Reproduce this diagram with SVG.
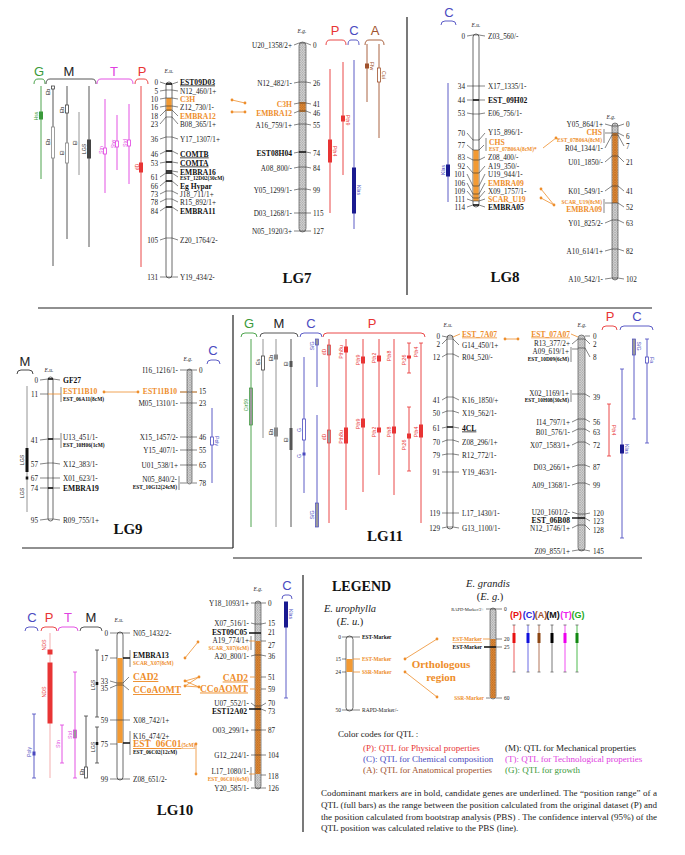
<svg xmlns="http://www.w3.org/2000/svg" width="685" height="855" viewBox="0 0 685 855">
<defs>
<pattern id="hg" width="2.5" height="2.5" patternUnits="userSpaceOnUse"><rect width="2.5" height="2.5" fill="#dcdcdc"/><path d="M0,2.5L2.5,0M0,0L2.5,2.5" stroke="#8a8a8a" stroke-width="0.45"/></pattern>
<pattern id="ho" width="2.5" height="2.5" patternUnits="userSpaceOnUse"><rect width="2.5" height="2.5" fill="#e8913a"/><path d="M0,2.5L2.5,0M0,0L2.5,2.5" stroke="#a0581a" stroke-width="0.45"/></pattern>
<pattern id="hq" width="2" height="2" patternUnits="userSpaceOnUse"><rect width="2" height="2" fill="#fff"/><path d="M0,1H2" stroke="currentColor" stroke-width="0.8"/></pattern>
</defs>
<style>
text{font-family:"Liberation Serif","Times New Roman",serif;font-size:7.2px;fill:#222}
.b{font-weight:bold;font-size:7.6px;fill:#111}
.o{fill:#ee8e2c;font-weight:bold;font-size:7.6px}
.s{font-size:5.4px;font-weight:bold;fill:#111}
.so{font-size:5.4px;font-weight:bold;fill:#ee8e2c}
.e{text-anchor:end}
.u{text-decoration:underline}
.L{font-size:15px;font-weight:bold;text-anchor:middle;fill:#111}
.i{font-style:italic;font-size:5.5px;text-anchor:middle}
.H{font-family:"Liberation Sans",Arial,sans-serif;font-size:13px;text-anchor:middle}
.q{font-family:"Liberation Sans",Arial,sans-serif;font-size:5.2px;text-anchor:middle}
.tk{stroke:#333;stroke-width:0.6;fill:none}
.bt{stroke:#111;stroke-width:1.4;fill:none}
.oc{stroke:#ee8e2c;stroke-width:0.8;fill:none}
.cu{fill:#fff;stroke:#444;stroke-width:0.8}
.cg{fill:url(#hg);stroke:#555;stroke-width:0.7}
.br{fill:none;stroke-width:0.9}
.sep{stroke:#222;stroke-width:1.2;fill:none}
.G{stroke:#3a9a3a;fill:#3a9a3a;color:#3a9a3a}
.M{stroke:#444;fill:#444;color:#444}
.Mg{stroke:#888;fill:#888;color:#888}
.T{stroke:#e040e0;fill:#e040e0;color:#e040e0}
.P{stroke:#e83434;fill:#e83434;color:#e83434}
.C{stroke:#4a4ac0;fill:#4a4ac0;color:#4a4ac0}
.Cd{fill:#1a1a90;stroke:#1a1a90}
.A{stroke:#a0522d;fill:#a0522d;color:#a0522d}
.ln{stroke-width:0.9;fill:none}
.op{fill:#fff;stroke-width:0.8}
.hq{fill:url(#hq);stroke-width:0.7}
.dot{fill:#ee8e2c}
.tG{fill:#3a9a3a}.tM{fill:#222}.tT{fill:#e040e0}.tP{fill:#e83434}.tC{fill:#4a4ac0}.tA{fill:#a0522d}
.cc{font-size:9px}
.lc{font-family:"Liberation Sans",Arial,sans-serif;font-size:9px;font-weight:bold;text-anchor:middle}
.sm{font-size:5.5px}
</style>
<rect width="685" height="855" fill="#fff"/>

<g id="separators">
<path class="sep" d="M38,308H652M407,17V295M22,548H233M233,315V548M233,558H642M303,575V832"/>
</g>

<!-- ================= LG7 ================= -->
<g id="lg7-qtl-left">
<path class="br" stroke="#3a9a3a" d="M34,84Q34,79 38,79H42Q45,79 45,84"/>
<path class="br" stroke="#444" d="M46,84Q46,79 50,79H92Q96,79 96,84"/>
<path class="br" stroke="#e040e0" d="M97,84Q97,79 101,79H129Q133,79 133,84"/>
<path class="br" stroke="#e83434" d="M135,84Q135,79 139,79H144Q148,79 148,84"/>
<text class="H tG" x="39" y="76">G</text>
<text class="H tM" x="69" y="76">M</text>
<text class="H tT" x="114" y="76">T</text>
<text class="H tP" x="142" y="76">P</text>
<path class="ln G" d="M41,86V179"/><rect class="G" x="39.5" y="112" width="3" height="7"/>
<text class="q tG" transform="translate(38,116) rotate(-90)">Hss</text>
<path class="ln M" d="M53,86V266M67,86V239M89,86V247"/><path class="ln Mg" d="M79,112V175"/>
<rect class="op Mg" x="51.5" y="127" width="3" height="31"/>
<rect class="op M" x="51.5" y="86" width="3" height="3"/>
<rect class="op M" x="65.5" y="105" width="3" height="8"/>
<rect class="op Mg" x="65.5" y="143" width="3" height="20"/>
<rect class="M" x="87.5" y="140" width="3" height="18"/>
<text class="q tM" transform="translate(50,92) rotate(-90)">Eb</text>
<text class="q tM" transform="translate(50,142) rotate(-90)">Eb</text>
<text class="q tM" transform="translate(64,110) rotate(-90)">Eb</text>
<text class="q tM" transform="translate(64,153) rotate(-90)">El</text>
<text class="q tM" transform="translate(77,143) rotate(-90)">El</text>
<text class="q tM" transform="translate(86,149) rotate(-90)">LGS</text>
<path class="ln T" d="M105,99V193M117,115V170M129,104V184"/>
<rect class="op T" x="103.5" y="148" width="3" height="6"/>
<rect class="op T" x="115.5" y="141" width="3" height="6"/>
<rect class="op T" x="127.5" y="140" width="3" height="6"/>
<text class="q tT" transform="translate(103,150) rotate(-90)">Stn</text>
<text class="q tT" transform="translate(115,144) rotate(-90)">Stw</text>
<text class="q tT" transform="translate(127,143) rotate(-90)">Std</text>
<path class="ln P" d="M141,86V267"/><rect class="P" x="139.5" y="163" width="3" height="9"/>
<text class="q tP" transform="translate(139,167) rotate(-90)">dD</text>
</g>

<g id="lg7-eu">
<text class="i" x="169" y="73">E.u.</text>
<rect class="cu" x="166" y="82" width="6" height="196" rx="3"/>
<rect x="166.4" y="98" width="5.2" height="13" fill="#f39a33"/>
<path class="tk" d="M160,82L166,84H172L178,82M160,91L166,90H172L178,91M160,99L166,98H172L178,99M160,107L166,106H172L178,107M160,116L166,110H172L178,116M160,124L166,117H172L178,124M160,139L166,137H172L178,139M160,154L166,151H172L178,154M160,163L166,162H172L178,163M166,171H172L178,172M160,177L166,173H172L178,177M160,186L166,181H172L178,186M160,194L166,191H172L178,194M160,202L166,199H172L178,202M160,211L166,207H172L178,211M160,240L166,238H172L178,240M160,277L166,277H172L178,277"/>
<path class="bt" d="M166,84H172M166,151H172M166,162H172M166,171H172M166,173H172M166,181H172M166,207H172"/>
<g class="e">
<text x="158" y="85">0</text><text x="158" y="93.5">5</text><text x="158" y="101.5">10</text><text x="158" y="109.5">16</text><text x="158" y="118.5">18</text><text x="158" y="126.5">23</text><text x="158" y="141.5">36</text><text x="158" y="156.5">46</text><text x="158" y="165.5">53</text><text x="158" y="179.5">61</text><text x="158" y="188.5">66</text><text x="158" y="196.5">73</text><text x="158" y="204.5">78</text><text x="158" y="213.5">84</text><text x="158" y="242.5">105</text><text x="158" y="279.5">131</text>
</g>
<text class="b u" x="180" y="84.5">EST09D03</text>
<text x="180" y="93.5">N12_460/1+</text>
<text class="o" x="180" y="101.5">C3H</text>
<text x="180" y="109.5">Z12_730/1-</text>
<text class="o" x="180" y="118.5">EMBRA12</text>
<text x="180" y="126.5">B08_365/1+</text>
<text x="180" y="141.5">Y17_1307/1+</text>
<text class="b u" x="180" y="156.5">COMTB</text>
<text class="b u" x="180" y="165.5">COMTA</text>
<text class="b" x="180" y="174.5">EMBRA16</text>
<text class="s" x="180" y="180">EST_12D02(30cM)</text>
<text class="b" x="180" y="188.5">Eg Hypar</text>
<text x="180" y="196.5">J18_711/1+</text>
<text x="180" y="204.5">R15_892/1+</text>
<text class="b" x="180" y="213.5">EMBRA11</text>
<text x="180" y="242.5">Z20_1764/2-</text>
<text x="180" y="279.5">Y19_434/2-</text>
</g>

<g id="lg7-connectors">
<path class="oc" d="M232,100L245,103M232,112H245"/>
<circle class="dot" cx="232" cy="100" r="1.4"/><circle class="dot" cx="245" cy="103" r="1.4"/>
<circle class="dot" cx="232" cy="112" r="1.4"/><circle class="dot" cx="245" cy="112" r="1.4"/>
</g>

<g id="lg7-eg">
<text class="i" x="302" y="33">E.g.</text>
<rect class="cg" x="299" y="42" width="7" height="190" rx="3.5"/>
<rect x="299.4" y="102" width="6.2" height="10" fill="url(#ho)"/>
<path class="tk" d="M294,45L299,43H306L311,45M294,83L299,82H306L311,83M294,104L299,103H306L311,104M294,113L299,111H306L311,113M294,125L299,124H306L311,125M294,153L299,152H306L311,153M294,168L299,167H306L311,168M294,190L299,189H306L311,190M294,213H311M294,231H311"/>
<path class="bt" d="M299,152H306"/>
<g class="e">
<text x="292" y="47.5">U20_1358/2+</text><text x="292" y="85.5">N12_482/1-</text><text class="o" x="292" y="106.5">C3H</text><text class="o" x="292" y="115.5">EMBRA12</text><text x="292" y="127.5">A16_759/1+</text><text class="b" x="292" y="155.5">EST08H04</text><text x="292" y="170.5">A08_800/-</text><text x="292" y="192.5">Y05_1299/1-</text><text x="292" y="215.5">D03_1268/1-</text><text x="292" y="233.5">N05_1920/3+</text>
</g>
<text x="313" y="47.5">0</text><text x="313" y="85.5">26</text><text x="313" y="106.5">41</text><text x="313" y="115.5">46</text><text x="313" y="127.5">55</text><text x="313" y="155.5">74</text><text x="313" y="170.5">84</text><text x="313" y="192.5">99</text><text x="313" y="215.5">115</text><text x="313" y="233.5">127</text>
<text class="L" x="297" y="283">LG7</text>
</g>

<g id="lg7-qtl-right">
<path class="br" stroke="#e83434" d="M326,45Q326,40 330,40H342Q346,40 346,45"/>
<path class="br" stroke="#4a4ac0" d="M348,45Q348,40 351,40H356Q359,40 359,45"/>
<path class="br" stroke="#a0522d" d="M365,45Q365,40 369,40H380Q384,40 384,45"/>
<text class="H tP" x="335" y="35">P</text>
<text class="H tC" x="354" y="35">C</text>
<text class="H tA" x="375" y="35">A</text>
<path class="ln P" d="M330,69V213M343,62V175"/>
<rect class="P" x="328.5" y="140" width="3" height="22"/>
<rect class="P" x="341.5" y="116" width="3" height="5"/>
<text class="q tP" transform="translate(333,151) rotate(90)">Pth4</text>
<text class="q tP" transform="translate(346,120) rotate(90)">Pth9</text>
<path class="ln C" d="M354,60V229" stroke-width="0.7"/>
<rect class="Cd" x="352.5" y="168" width="3" height="45"/>
<text class="q tC" transform="translate(357,190) rotate(90)">Klas</text>
<path class="ln A" d="M367,44V102M379,44V138"/>
<rect class="A" x="365.5" y="64" width="3" height="4"/>
<rect class="op A" x="377.5" y="68" width="3" height="14"/>
<text class="q tA" transform="translate(370,66) rotate(90)">Ffw</text>
<text class="q tA" transform="translate(382,75) rotate(90)">Cui</text>
</g>

<!-- ================= LG8 ================= -->
<g id="lg8-qtl">
<path class="br" stroke="#4a4ac0" d="M441,25Q441,21 445,21H452Q456,21 456,25"/>
<text class="H tC" x="449" y="17">C</text>
<path class="ln C" d="M448,83V202" stroke-width="0.7"/>
<rect class="Cd" x="446.5" y="165" width="3" height="11"/>
<text class="q tC" transform="translate(445,170) rotate(-90)">Klas</text>
</g>

<g id="lg8-eu">
<text class="i" x="476" y="27">E.u.</text>
<rect class="cu" x="473" y="34" width="6" height="173" rx="3"/>
<rect x="473.4" y="150" width="5.2" height="51" fill="#f39a33"/>
<path class="tk" d="M467,36L473,35H479L485,36M467,86H485M467,100H485M467,113L473,114H479L485,113M467,133L473,140H479L485,133M467,145L473,150H479L484,145M467,157L473,160H479L485,157M467,166L473,173H479L485,166M467,174L473,186H479L485,174M467,183L473,194H479L485,183M467,191L473,198H479L485,191M467,199L473,201H479L485,199M467,207L473,205H479L485,207M486,138V151"/>
<path class="bt" d="M473,100H479M473,205H479"/>
<g class="e">
<text x="465" y="38.5">0</text><text x="465" y="88.5">34</text><text x="465" y="102.5">44</text><text x="465" y="115.5">53</text><text x="465" y="135.5">70</text><text x="465" y="147.5">77</text><text x="465" y="159.5">83</text><text x="465" y="168.5">92</text><text x="465" y="176.5">101</text><text x="465" y="185.5">106</text><text x="465" y="193.5">109</text><text x="465" y="201.5">111</text><text x="465" y="209.5">114</text>
</g>
<text x="488" y="38.5">Z03_560/-</text>
<text x="488" y="88.5">X17_1335/1-</text>
<text class="b" x="488" y="102.5">EST_09H02</text>
<text x="488" y="115.5">E06_756/1-</text>
<text x="488" y="135">Y15_896/1-</text>
<text class="o" x="489" y="144.5">CHS</text>
<text class="so" x="489" y="150.5">EST_07B06A(8cM)*</text>
<text x="488" y="159.5">Z08_400/-</text>
<text x="488" y="168.5">A19_350/-</text>
<text x="488" y="176.5">U19_944/1-</text>
<text class="o" x="488" y="185.5">EMBRA09</text>
<text x="488" y="193.5">X09_1757/1-</text>
<text class="o" x="488" y="201.5">SCAR_U19</text>
<text class="b" x="488" y="209.5">EMBRA05</text>
<text class="L" x="505" y="282">LG8</text>
</g>

<g id="lg8-connectors">
<path class="oc" d="M543,148L556,138M541,189L554,205M541,198L554,205"/>
<circle class="dot" cx="556" cy="138" r="1.4"/>
<circle class="dot" cx="541" cy="189" r="1.4"/><circle class="dot" cx="541" cy="198" r="1.4"/><circle class="dot" cx="554" cy="205" r="1.4"/>
</g>

<g id="lg8-eg">
<text class="i" x="611" y="119">E.g.</text>
<rect class="cg" x="612" y="123" width="6" height="157" rx="3"/>
<rect x="612.4" y="133" width="5.2" height="70" fill="url(#ho)"/>
<path class="tk" d="M605,124L612,126H618L624,124M612,133H618L624,136M605,148L612,135H618L624,146M605,162L612,156H618L624,162M605,191L612,186H618L624,191M612,203H618L624,207M605,223L612,220H618L624,223M605,251L612,249H618L624,251M605,279L612,278H618L624,279M605,133H612M605,203H612M604,129V143M604,199V213"/>
<g class="e">
<text x="603" y="126.5">Y05_864/1+</text>
<text class="o" x="602" y="135">CHS</text>
<text class="so" x="602" y="141.5">EST_07B06A(8cM)</text>
<text x="603" y="150.5">R04_1344/1-</text>
<text x="603" y="164.5">U01_1850/-</text>
<text x="603" y="193.5">K01_549/1-</text>
<text class="so" x="602" y="204">SCAR_U19(8cM)</text>
<text class="o" x="602" y="212">EMBRA09</text>
<text x="603" y="225.5">Y01_825/2-</text>
<text x="603" y="253.5">A10_614/1+</text>
<text x="603" y="281.5">A10_542/1-</text>
</g>
<text x="626" y="126.5">0</text><text x="626" y="138.5">6</text><text x="626" y="148.5">7</text><text x="626" y="164.5">21</text><text x="626" y="193.5">41</text><text x="626" y="209.5">52</text><text x="626" y="225.5">63</text><text x="626" y="253.5">82</text><text x="626" y="281.5">102</text>
</g>

<!-- ================= LG9 ================= -->
<g id="lg9-qtl">
<path class="br" stroke="#333" d="M17,374Q17,370 21,370H29Q33,370 33,374"/>
<text class="H tM" x="25" y="366">M</text>
<path class="ln Mg" d="M27,386V512"/>
<rect fill="#111" x="25.5" y="448" width="3" height="24"/>
<rect fill="#111" x="25.7" y="476.5" width="2.6" height="3"/>
<text class="q tM" transform="translate(24,460) rotate(-90)">LGS</text>
<text class="q tM" transform="translate(24,493) rotate(-90)">LGS</text>
<path class="br" stroke="#4a4ac0" d="M207,364Q207,360 211,360H216Q220,360 220,364"/>
<text class="H tC" x="213" y="355">C</text>
<path class="ln C" d="M212,408V483" stroke-width="0.7"/>
<rect class="op C" x="210.5" y="437" width="3" height="8"/>
<text class="q tC" transform="translate(215,441) rotate(90)">Poly</text>
</g>

<g id="lg9-eu">
<text class="i" x="49" y="372">E.u.</text>
<rect class="cu" x="48" y="377" width="5" height="144" rx="2.5"/>
<path class="tk" d="M40,380L48,379H53L60,380M40,394H48M40,440L48,439H53L60,439M40,464L48,463H53L60,464M40,478H60M40,488H60M40,520L48,519H53L60,520M61,387V402M61,433V448"/>
<path class="oc" d="M48,394H61" stroke-width="1"/>
<path class="bt" d="M48,379H53M48,439H53M48,488H53"/>
<g class="e">
<text x="38" y="382.5">0</text><text x="38" y="396.5">11</text><text x="38" y="442.5">41</text><text x="38" y="466.5">57</text><text x="38" y="480.5">67</text><text x="38" y="490.5">74</text><text x="38" y="522.5">95</text>
</g>
<text class="b" x="63" y="382.5">GF27</text>
<text class="o" x="63" y="393.5">EST11B10</text>
<text class="s" x="63" y="401">EST_06A11(8cM)</text>
<text x="63" y="439.5">U13_451/1-</text>
<text class="s" x="63" y="447">EST_10H06(1cM)</text>
<text x="63" y="466.5">X12_383/1-</text>
<text x="63" y="480.5">X01_623/1-</text>
<text class="b" x="63" y="490.5">EMBRA19</text>
<text x="63" y="522.5">R09_755/1+</text>
<text class="L" x="128" y="534">LG9</text>
</g>

<g id="lg9-connectors">
<path class="oc" d="M104,392H138"/>
<circle class="dot" cx="104" cy="392" r="1.4"/><circle class="dot" cx="138" cy="392" r="1.4"/>
</g>

<g id="lg9-eg">
<text class="i" x="188" y="361">E.g.</text>
<rect class="cg" x="187" y="369" width="5" height="115" rx="2.5"/>
<path class="tk" d="M180,370H197M180,392H197M180,403H197M180,437H197M180,450H197M180,465H197M180,483H187M192,483L197,483M179,476V490"/>
<path class="oc" d="M180,392H187M192,392H197"/>
<g class="e">
<text x="178" y="372.5">I16_1216/1-</text>
<text class="o" x="177" y="393.5">EST11B10</text>
<text x="178" y="405.5">M05_1310/1-</text>
<text x="178" y="439.5">X15_1457/2-</text>
<text x="178" y="452.5">Y15_407/1-</text>
<text x="178" y="467.5">U01_538/1+</text>
<text x="177" y="481.5">N05_840/2-</text>
<text class="s" x="177" y="489">EST_10G12(24cM)</text>
</g>
<text x="199" y="372.5">0</text><text x="199" y="393.5">15</text><text x="199" y="405.5">23</text><text x="199" y="439.5">46</text><text x="199" y="452.5">55</text><text x="199" y="467.5">65</text><text x="199" y="485.5">78</text>
</g>

<!-- ================= LG11 ================= -->
<g id="lg11-qtl-left">
<path class="br" stroke="#3a9a3a" d="M241,337Q241,333 245,333H253Q257,333 257,337"/>
<path class="br" stroke="#444" d="M260,337Q260,333 264,333H294Q298,333 298,337"/>
<path class="br" stroke="#4a4ac0" d="M300,337Q300,333 304,333H318Q322,333 322,337"/>
<path class="br" stroke="#e83434" d="M323,337Q323,333 327,333H421Q425,333 425,337"/>
<text class="H tG" x="249" y="328">G</text>
<text class="H tM" x="279" y="328">M</text>
<text class="H tC" x="311" y="328">C</text>
<text class="H tP" x="372" y="328">P</text>
<path class="ln G" d="M251,339V527"/>
<rect class="hq G" x="249.5" y="388" width="3" height="37"/>
<text class="q tG" transform="translate(248,405) rotate(-90)">Cir59</text>
<path class="ln Mg" d="M263,339V438M276,339V527"/><path class="ln M" d="M291,339V527"/>
<rect class="op M" x="261.5" y="356" width="3" height="14"/>
<rect class="Mg" x="274.5" y="355" width="3" height="4"/>
<rect class="Mg" x="274.5" y="428" width="3" height="8"/>
<rect fill="#555" x="289.5" y="361" width="3" height="6"/>
<rect fill="#555" x="289.5" y="428" width="3" height="22"/>
<text class="q tM" transform="translate(260,362) rotate(-90)">Es</text>
<text class="q tM" transform="translate(273,358) rotate(-90)">Eb</text>
<text class="q tM" transform="translate(273,432) rotate(-90)">Eb</text>
<text class="q tM" transform="translate(288,364) rotate(-90)">El</text>
<text class="q tM" transform="translate(288,440) rotate(-90)">El</text>
<path class="ln C" stroke-width="0.7" d="M304,357V493M317,339V387M317,415V527"/>
<rect class="op C" x="302.5" y="419" width="3" height="21"/>
<rect class="C" x="303" y="453" width="2" height="2"/>
<rect class="hq C" x="315.5" y="339" width="3" height="6"/>
<rect class="hq C" x="315.5" y="503" width="3" height="24"/>
<text class="q tC" transform="translate(301,430) rotate(-90)">G</text>
<text class="q tC" transform="translate(301,456) rotate(-90)">G</text>
<text class="q tC" transform="translate(314,346) rotate(-90)">S/G</text>
<text class="q tC" transform="translate(314,515) rotate(-90)">S/G</text>
<path class="ln P" d="M329,339V523M346,339V510M363,339V492M379,339V475M394,339V495M409,343V373M409,407V471M421,343V523"/>
<path class="P" d="M407,343H411M407,373H411M407,407H411M407,471H411M419,343H423" stroke-width="0.8"/>
<rect class="hq P" x="327.5" y="345" width="3" height="10"/>
<rect class="hq P" x="327.5" y="430" width="3" height="13"/>
<rect class="P" x="344.5" y="347" width="3" height="5"/>
<rect class="P" x="344.5" y="428" width="3" height="15"/>
<rect class="P" x="361.5" y="357" width="3" height="6"/>
<rect class="P" x="361.5" y="419" width="3" height="8"/>
<rect class="P" x="377.5" y="356" width="3" height="5"/>
<rect class="P" x="377.5" y="428" width="3" height="4"/>
<rect class="P" x="392.5" y="427" width="3" height="6"/>
<rect class="P" x="407.5" y="356" width="3" height="2"/>
<rect class="P" x="407.5" y="434" width="3" height="4"/>
<rect class="P" x="419.5" y="425" width="3" height="12"/>
<text class="q tP" transform="translate(326,352) rotate(-90)">dD</text>
<text class="q tP" transform="translate(326,437) rotate(-90)">dD</text>
<text class="q tP" transform="translate(343,352) rotate(-90)">Pth8u</text>
<text class="q tP" transform="translate(343,437) rotate(-90)">Pth8u</text>
<text class="q tP" transform="translate(360,360) rotate(-90)">Pth9</text>
<text class="q tP" transform="translate(360,424) rotate(-90)">Pth9</text>
<text class="q tP" transform="translate(376,358) rotate(-90)">Pth2</text>
<text class="q tP" transform="translate(376,432) rotate(-90)">Pth2</text>
<text class="q tP" transform="translate(391,356) rotate(-90)">Pth8</text>
<text class="q tP" transform="translate(391,432) rotate(-90)">Pth8</text>
<text class="q tP" transform="translate(406,360) rotate(-90)">Pt26</text>
<text class="q tP" transform="translate(406,445) rotate(-90)">Pt26</text>
<text class="q tP" transform="translate(418,352) rotate(-90)">Pth4</text>
<text class="q tP" transform="translate(418,432) rotate(-90)">Pth4</text>
</g>

<g id="lg11-eu">
<text class="i" x="448" y="327">E.u.</text>
<rect class="cu" x="447" y="335" width="6" height="194" rx="3"/>
<path class="tk" d="M442,336L447,337H453M442,344L447,339H453L459,345M442,357L447,354H453L459,357M442,400L447,397H453L459,400M442,413L447,411H453L459,413M442,428L447,427H453L459,428M442,442L447,440H453L459,442M442,455L447,454H453L459,455M442,472H459M442,513H459M442,528L447,527H453L459,528"/>
<path class="oc" d="M453,337L460,334"/>
<path class="bt" d="M447,427H453"/>
<g class="e">
<text x="440" y="338.5">0</text><text x="440" y="346.5">2</text><text x="440" y="359.5">12</text><text x="440" y="402.5">41</text><text x="440" y="415.5">50</text><text x="440" y="430.5">61</text><text x="440" y="444.5">70</text><text x="440" y="457.5">79</text><text x="440" y="474.5">91</text><text x="440" y="515.5">119</text><text x="440" y="530.5">129</text>
</g>
<text class="o u" x="462" y="336.5">EST_7A07</text>
<text x="462" y="347.5">G14_450/1+</text>
<text x="462" y="359.5">R04_520/-</text>
<text x="462" y="402.5">K16_1850/+</text>
<text x="462" y="415.5">X19_562/1-</text>
<text class="b u" x="462" y="430.5">4CL</text>
<text x="462" y="444.5">Z08_296/1+</text>
<text x="462" y="457.5">R12_772/1-</text>
<text x="462" y="474.5">Y19_463/1-</text>
<text x="462" y="515.5">L17_1430/1-</text>
<text x="462" y="530.5">G13_1100/1-</text>
<text class="L" x="385" y="541">LG11</text>
</g>

<g id="lg11-connectors">
<path class="oc" d="M505,339H518"/>
<circle class="dot" cx="505" cy="339" r="1.4"/><circle class="dot" cx="518" cy="339" r="1.4"/>
</g>

<g id="lg11-eg">
<text class="i" x="582" y="327">E.g.</text>
<rect class="cg" x="578" y="335" width="7" height="216" rx="3.5"/>
<path class="tk" d="M585,336L590,336M572,344L578,339H585L590,344M578,348H585L590,357M578,394H585L590,397M572,422L578,419H585L590,422M572,432L578,429H585L590,432M572,445L578,442H585L590,445M572,467L578,465H585L590,467M572,485L578,483H585L590,485M572,512L578,514H585L590,513M578,518H585L590,521M572,528L578,525H585L590,530M572,551L578,550H585L590,551M571,347V362M571,390V402M572,349H578M572,394H578"/>
<path class="oc" d="M571,334L578,337"/>
<path class="bt" d="M572,518H585"/>
<g class="e">
<text class="o u" x="570" y="336.5">EST_07A07</text>
<text x="570" y="345.5">R13_377/2+</text>
<text x="569" y="353.5">A09_619/1+</text>
<text class="s" x="569" y="360.5">EST_10D09(6cM)</text>
<text x="569" y="395.5">X02_1169/1+</text>
<text class="s" x="569" y="402">EST_10H08(30cM)</text>
<text x="570" y="424.5">I14_797/1+</text>
<text x="570" y="434.5">B01_576/1-</text>
<text x="570" y="447.5">X07_1583/1+</text>
<text x="570" y="469.5">D03_266/1+</text>
<text x="570" y="487.5">A09_1368/1-</text>
<text x="570" y="514.5">U20_1601/2-</text>
<text class="b" x="570" y="522.5">EST_06B08</text>
<text x="570" y="530.5">N12_1746/1+</text>
<text x="570" y="553.5">Z09_855/1+</text>
</g>
<text x="593" y="338.5">0</text><text x="593" y="346.5">2</text><text x="593" y="359.5">8</text><text x="593" y="399.5">39</text><text x="593" y="424.5">56</text><text x="593" y="434.5">63</text><text x="593" y="447.5">72</text><text x="593" y="469.5">87</text><text x="593" y="487.5">99</text><text x="593" y="515.5">120</text><text x="593" y="523.5">123</text><text x="593" y="532.5">128</text><text x="593" y="553.5">145</text>
</g>

<g id="lg11-qtl-right">
<path class="br" stroke="#e83434" d="M602,330Q602,326 606,326H613Q617,326 617,330"/>
<path class="br" stroke="#4a4ac0" d="M620,330Q620,326 624,326H649Q653,326 653,330"/>
<text class="H tP" x="610" y="321">P</text>
<text class="H tC" x="637" y="321">C</text>
<path class="ln P" d="M609,404V456"/>
<path class="P" d="M607,404H611M607,456H611" stroke-width="0.8"/>
<text class="q tP" transform="translate(612,430) rotate(90)">Pth4</text>
<path class="ln C" stroke-width="0.7" d="M634,339V419M647,339V443M622,369V538"/>
<path class="C" stroke-width="0.8" d="M632,419H636M645,339H649M645,443H649M620,369H624M620,538H624"/>
<rect class="hq C" x="632.5" y="339" width="3" height="16"/>
<rect class="op C" x="645.5" y="357" width="3" height="6"/>
<rect class="Cd" x="620.5" y="445" width="3" height="8"/>
<text class="q tC" transform="translate(637,346) rotate(90)">S/G</text>
<text class="q tC" transform="translate(650,360) rotate(90)">Fa</text>
<text class="q tC" transform="translate(625,449) rotate(90)">Klas</text>
</g>

<!-- ================= LG10 ================= -->
<g id="lg10-qtl-left">
<path class="br" stroke="#4a4ac0" d="M25,631Q25,627 29,627H34Q38,627 38,631"/>
<path class="br" stroke="#e83434" d="M41,631Q41,627 45,627H53Q57,627 57,631"/>
<path class="br" stroke="#e040e0" d="M58,631Q58,627 62,627H74Q78,627 78,631"/>
<path class="br" stroke="#444" d="M80,631Q80,627 84,627H98Q102,627 102,631"/>
<text class="H tC" x="32" y="622">C</text>
<text class="H tP" x="49" y="622">P</text>
<text class="H tT" x="68" y="622">T</text>
<text class="H tM" x="91" y="622">M</text>
<path class="ln C" stroke-width="0.7" d="M34,714V778"/>
<path class="C" stroke-width="0.8" d="M32,714H36M32,778H36"/>
<rect class="C" x="33" y="752" width="2" height="3"/>
<text class="q tC" transform="translate(31,752) rotate(-90)">Poly</text>
<path class="ln" stroke="#f3a6a6" stroke-width="1.2" d="M50,633V778"/>
<rect class="P" x="48" y="650" width="4" height="4"/>
<rect class="P" x="48" y="663" width="4" height="60"/>
<text class="q tP" transform="translate(46,645) rotate(-90)">NDS</text>
<text class="q tP" transform="translate(46,692) rotate(-90)">NDS</text>
<path class="ln T" d="M62,725V763M75,672V778"/>
<path class="T" stroke-width="0.8" d="M60,725H64M60,763H64M73,672H77M73,778H77"/>
<rect class="hq T" x="73.5" y="730" width="3" height="8"/>
<text class="q tT" transform="translate(60,744) rotate(-90)">Stn</text>
<text class="q tT" transform="translate(72,735) rotate(-90)">Std</text>
<path class="ln M" d="M97,650V717M97,727V763M86,716V778"/>
<path class="M" stroke-width="0.8" d="M95,650H99M95,717H99M95,727H99M95,763H99M84,716H88"/>
<rect fill="#111" x="95.7" y="682" width="2.6" height="3"/>
<rect fill="#111" x="95.7" y="742" width="2.6" height="3"/>
<rect class="op M" x="84.5" y="767" width="3" height="11"/>
<text class="q tM" transform="translate(95,685) rotate(-90)">LGS</text>
<text class="q tM" transform="translate(95,747) rotate(-90)">LGS</text>
<text class="q tM" transform="translate(84,772) rotate(-90)">Eb</text>
</g>

<g id="lg10-eu">
<text class="i" x="119" y="622">E.u.</text>
<rect class="cu" x="117" y="632" width="6" height="148" rx="3"/>
<rect x="117.4" y="658" width="5.2" height="85" fill="#f39a33"/>
<path class="tk" d="M110,633H130M110,658H117M110,681L117,683H123L129,677M110,688L117,685H123L129,690M110,720H130M110,744H117M110,779H130M130,650V667M130,731V755"/>
<path class="bt" d="M123,658H130M123,743H130"/>
<g class="e">
<text x="108" y="635.5">0</text><text x="108" y="660.5">17</text><text x="108" y="683.5">33</text><text x="108" y="690.5">35</text><text x="108" y="722.5">59</text><text x="108" y="746.5">75</text><text x="108" y="781.5">99</text>
</g>
<text x="133" y="635.5">N05_1432/2-</text>
<text class="b" x="133" y="657.5">EMBRA13</text>
<text class="so" x="133" y="665">SCAR_X07(8cM)</text>
<text class="o u" x="133" y="680" style="font-size:9.5px">CAD2</text>
<text class="o u" x="133" y="693" style="font-size:9.5px">CCoAOMT</text>
<text x="133" y="722.5">X08_742/1+</text>
<text x="133" y="738.5">K16_474/2+</text>
<text class="o u" x="133" y="747" style="font-size:9.5px">EST_06C01<tspan style="font-size:5.4px">(5cM)</tspan></text>
<text class="s" x="133" y="754">EST_06C02(12cM)</text>
<text x="133" y="781.5">Z08_651/2-</text>
<text class="L" x="175" y="815">LG10</text>
</g>

<g id="lg10-connectors">
<path class="oc" d="M185,658L198,642M185,681L199,677M185,686L199,687M185,681L199,687M185,686L199,677M196,744V774"/>
<circle class="dot" cx="185" cy="658" r="1.4"/><circle class="dot" cx="198" cy="642" r="1.4"/>
<circle class="dot" cx="185" cy="681" r="1.4"/><circle class="dot" cx="185" cy="686" r="1.4"/>
<circle class="dot" cx="199" cy="677" r="1.4"/><circle class="dot" cx="199" cy="687" r="1.4"/>
<circle class="dot" cx="196" cy="744" r="1.4"/><circle class="dot" cx="196" cy="774" r="1.4"/>
</g>

<g id="lg10-eg">
<text class="i" x="258" y="591">E.g.</text>
<rect class="cg" x="255" y="601" width="6" height="188" rx="3"/>
<rect x="255.4" y="641" width="5.2" height="133" fill="url(#ho)"/>
<path class="tk" d="M251,603H266M251,623L255,624H261L266,623M261,641H266M251,656L255,655H261L266,656M261,677H266M261,689H266M251,703L255,706H261L266,703M261,709L266,711M251,730H266M251,755H266M261,775H266M251,788H266M251,636V650M251,767V781"/>
<path class="oc" d="M249,641H255M250,677H255M250,689H255M249,774H255"/>
<path class="bt" d="M249,633H261M249,709H261"/>
<g class="e">
<text x="249" y="605.5">Y18_1093/1+</text>
<text x="249" y="625.5">X07_516/1-</text>
<text class="b" x="247" y="634.5">EST09C05</text>
<text x="249" y="643">A19_774/1+</text>
<text class="so" x="249" y="650">SCAR_X07(6cM)</text>
<text x="249" y="658.5">A20_800/1-</text>
<text class="o u" x="248" y="680.5" style="font-size:9.5px">CAD2</text>
<text class="o u" x="248" y="691.5" style="font-size:9.5px">CCoAOMT</text>
<text x="249" y="705.5">U07_552/1-</text>
<text class="b" x="247" y="713.5">EST12A02</text>
<text x="249" y="732.5">O03_299/1+</text>
<text x="249" y="757.5">G12_224/1-</text>
<text x="249" y="774">L17_1080/1-</text>
<text class="so" x="249" y="781">EST_06C01(6cM)</text>
<text x="249" y="790.5">Y20_585/1-</text>
</g>
<text x="268" y="605.5">0</text><text x="268" y="625.5">15</text><text x="268" y="634.5">21</text><text x="268" y="647.5">27</text><text x="268" y="658.5">36</text><text x="268" y="679.5">51</text><text x="268" y="691.5">59</text><text x="268" y="705.5">70</text><text x="268" y="713.5">73</text><text x="268" y="732.5">87</text><text x="268" y="757.5">104</text><text x="268" y="778.5">118</text><text x="268" y="790.5">126</text>
</g>

<g id="lg10-qtl-right">
<path class="br" stroke="#4a4ac0" d="M282,599Q282,595 285,595H289Q292,595 292,599"/>
<text class="H tC" x="287" y="590">C</text>
<path class="ln C" stroke-width="0.7" d="M286,602V698"/>
<path class="C" stroke-width="0.8" d="M284,698H288"/>
<rect class="Cd" x="284.5" y="602" width="3" height="25"/>
<text class="q tC" transform="translate(289,614) rotate(90)">Klas</text>
</g>

<!-- ================= LEGEND ================= -->
<g id="legend">
<text x="332" y="591" style="font-size:14px;font-weight:bold;fill:#111">LEGEND</text>
<text x="488" y="587" style="font-size:10.5px;font-style:italic;text-anchor:middle">E. grandis</text>
<text x="490" y="600" style="font-size:10.5px;text-anchor:middle">(<tspan font-style="italic">E. g.</tspan>)</text>
<text x="350" y="612" style="font-size:10.5px;font-style:italic;text-anchor:middle">E. urophylla</text>
<text x="350" y="625" style="font-size:10.5px;text-anchor:middle">(<tspan font-style="italic">E. u.</tspan>)</text>
</g>

<g id="legend-eu">
<rect class="cu" x="346" y="636" width="7" height="75" rx="3.5"/>
<rect x="346.4" y="659" width="6.2" height="13" fill="#f39a33"/>
<path class="tk" d="M342,637H360M342,659H346M342,672H346M342,710H360"/>
<path class="oc" d="M353,659H360M353,672H360"/>
<g class="e">
<text class="sm" x="341" y="639">0</text><text class="sm" x="341" y="661">15</text><text class="sm" x="341" y="674">24</text><text class="sm" x="341" y="712">50</text>
</g>
<text class="s" x="362" y="639">EST-Marker</text>
<text class="so" x="362" y="661">EST-Marker</text>
<text class="so" x="362" y="674">SSR-Marker</text>
<text class="sm" x="362" y="712">RAPD-Marker/-</text>
</g>

<g id="legend-connectors">
<path class="oc" d="M405,659L437,639M405,672L437,697"/>
<circle class="dot" cx="405" cy="659" r="1.4"/><circle class="dot" cx="405" cy="672" r="1.4"/>
<circle class="dot" cx="437" cy="639" r="1.4"/><circle class="dot" cx="437" cy="697" r="1.4"/>
<text x="441" y="668" style="font-size:11px;font-weight:bold;fill:#ee8e2c;text-anchor:middle">Orthologous</text>
<text x="441" y="681" style="font-size:11px;font-weight:bold;fill:#ee8e2c;text-anchor:middle">region</text>
</g>

<g id="legend-eg">
<rect class="cg" x="490" y="608" width="6" height="91" rx="3"/>
<rect x="490.4" y="639" width="5.2" height="59" fill="url(#ho)"/>
<path class="tk" d="M486,609H502M496,639H502M484,647H502M486,698H490M496,698H502"/>
<path class="oc" d="M483,639H490"/>
<path class="bt" d="M484,647H496"/>
<text class="sm" x="504" y="611">0</text><text class="sm" x="504" y="641">20</text><text class="sm" x="504" y="649">25</text><text class="sm" x="504" y="700">60</text>
<g class="e">
<text x="484" y="611" style="font-size:4.5px">RAPD-Marker/2+</text>
<text class="so u" x="482" y="641">EST-Marker</text>
<text class="s" x="482" y="649">EST-Marker</text>
<text class="so" x="484" y="700">SSR-Marker</text>
</g>
</g>

<g id="legend-colors">
<text x="516" y="618" class="lc" style="fill:#e81010">(P)</text>
<text x="529" y="618" class="lc" style="fill:#2222dd">(C)</text>
<text x="541" y="618" class="lc" style="fill:#a0522d">(A)</text>
<text x="553" y="618" class="lc" style="fill:#111">(M)</text>
<text x="566" y="618" class="lc" style="fill:#ee22ee">(T)</text>
<text x="578" y="618" class="lc" style="fill:#22aa22">(G)</text>
<path stroke-width="0.8" fill="none" d="M514,625V672" stroke="#e83434"/><rect x="512.5" y="633" width="3" height="10" fill="#e81010"/>
<path stroke-width="0.8" fill="none" d="M528,625V672" stroke="#4444dd"/><rect x="526.5" y="633" width="3" height="10" fill="#1010dd"/>
<path stroke-width="0.8" fill="none" d="M539,625V672" stroke="#a0522d"/><rect x="537.5" y="633" width="3" height="10" fill="#8b4513"/>
<path stroke-width="0.8" fill="none" d="M552,625V672" stroke="#555"/><rect x="550.5" y="633" width="3" height="10" fill="#000"/>
<path stroke-width="0.8" fill="none" d="M565,625V672" stroke="#ee22ee"/><rect x="563.5" y="633" width="3" height="10" fill="#ee00ee"/>
<path stroke-width="0.8" fill="none" d="M577,625V672" stroke="#22aa22"/><rect x="575.5" y="633" width="3" height="10" fill="#118811"/>
<path stroke-width="0.8" d="M512.5,625H515.5M526.5,625H529.5M537.5,625H540.5M550.5,625H553.5M563.5,625H566.5M575.5,625H578.5M512.5,672H515.5M526.5,672H529.5M537.5,672H540.5M550.5,672H553.5M563.5,672H566.5M575.5,672H578.5" stroke="#666"/>
</g>

<g id="legend-text">
<text class="cc" x="338" y="737">Color codes for QTL :</text>
<text class="cc" x="363" y="751" style="fill:#e83434">(P): QTL for  Physical properties</text>
<text class="cc" x="363" y="762" style="fill:#4a4ac0">(C): QTL for Chemical composition</text>
<text class="cc" x="363" y="773" style="fill:#a0522d">(A): QTL for Anatomical properties</text>
<text class="cc" x="505" y="751">(M): QTL for Mechanical properties</text>
<text class="cc" x="505" y="762" style="fill:#e040e0">(T): QTL for Technological properties</text>
<text class="cc" x="505" y="773" style="fill:#3a9a3a">(G): QTL for growth</text>
<text class="cc" x="321" y="796" textLength="336" lengthAdjust="spacing">Codominant markers are in bold, candidate genes are underlined. The “position range” of a</text>
<text class="cc" x="321" y="808" textLength="336" lengthAdjust="spacing">QTL (full bars) as the range between the position calculated from the original dataset (P) and</text>
<text class="cc" x="321" y="819.5" textLength="336" lengthAdjust="spacing">the position calculated from bootstrap analysis (PBS) . The confidence interval (95%) of the</text>
<text class="cc" x="321" y="831">QTL position was calculated relative to the PBS (line).</text>
</g>
</svg>
